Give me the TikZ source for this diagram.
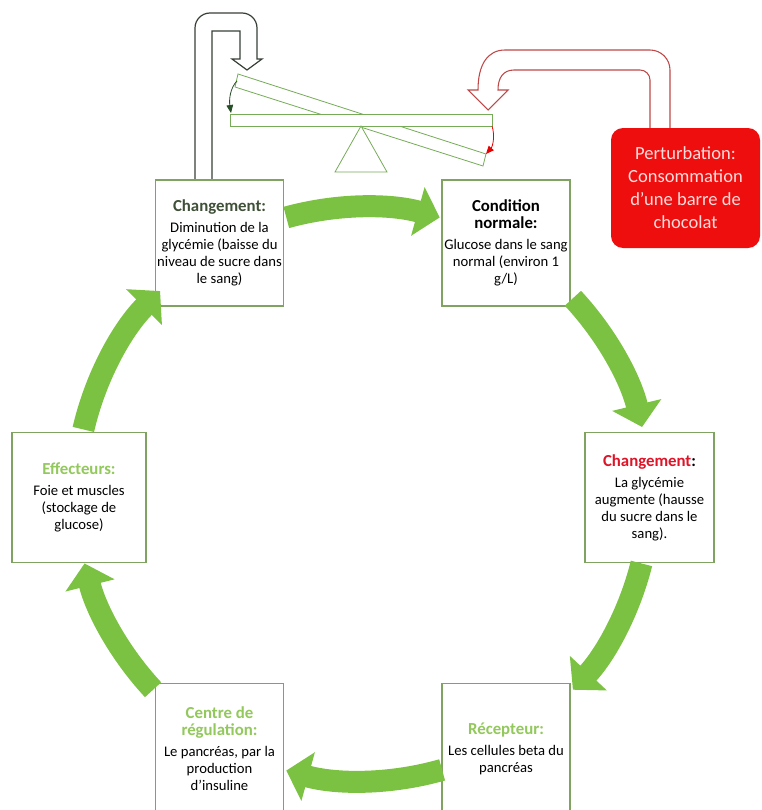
\documentclass[tikz,border=0pt]{standalone}
\usepackage{fontspec}
\setmainfont{Carlito}
\usetikzlibrary{calc,arrows.meta}
\definecolor{boxGreen}{RGB}{128,163,98}
\definecolor{cycleGreen}{RGB}{124,194,66}
\definecolor{titleGreen}{RGB}{146,200,92}
\definecolor{titleDark}{RGB}{64,80,56}
\definecolor{titleRed}{RGB}{222,20,40}
\definecolor{perturbRed}{RGB}{238,14,14}
\definecolor{perturbText}{RGB}{255,220,220}
\definecolor{outlineRed}{RGB}{190,72,72}
\definecolor{outlineDark}{RGB}{55,64,54}
\definecolor{seesawGreen}{RGB}{118,172,88}
\definecolor{tipDark}{RGB}{40,78,40}
\definecolor{tipRed}{RGB}{232,0,0}

\newcommand{\boxTitle}[2]{{\fontsize{12.6}{13}\selectfont\bfseries\color{#1}#2}}

\tikzset{
myBox/.style={
	draw=boxGreen, line width=0.8pt, fill=white,
	minimum width=96pt, minimum height=94.5pt,
	inner xsep=1pt, inner ysep=2pt, align=center,
	font=\fontsize{11}{12.8}\selectfont
}
, myPerturb/.style={
	rectangle, rounded corners=9pt, fill=perturbRed,
	text=perturbText, minimum width=111.75pt, minimum height=90pt,
	inner sep=2pt, align=center,
	font=\fontsize{13.9}{17.3}\selectfont
}
% links
, myCycle/.style={draw=cycleGreen, line width=16.5pt, -{Triangle[width=37pt,length=17pt]}}
, myBlockDark/.style={draw=outlineDark, fill=white, line width=0.9pt}
, myBlockRed/.style={draw=outlineRed, fill=white, line width=0.8pt}
, mySeesaw/.style={draw=seesawGreen, fill=white, line width=0.6pt}
, myTipDark/.style={draw=tipDark, line width=0.6pt, -{Triangle[width=5pt,length=6pt]}}
, myTipRed/.style={draw=tipRed, line width=0.6pt, -{Triangle[width=5pt,length=6pt]}}
}

\begin{document}
\begin{tikzpicture}[x=0.75pt,y=-0.75pt]
	\useasboundingbox (0,0) rectangle (762,810);
	% feedback arrows
	\draw [myBlockDark] (195,181) -- (195,28) arc[start angle=180, end angle=270, radius=15]
		-- (242,13) arc[start angle=270, end angle=360, radius=15]
		-- (257,59) -- (262,59) -- (247,70) -- (232,59) -- (240,59)
		-- (240,31) -- (212,31) -- (212,181) -- cycle;
	\draw [myBlockRed] (670,129) -- (670,70) arc[start angle=0, end angle=-90, radius=20]
		-- (505,50) .. controls (488,50) and (478,64) .. (478,90)
		-- (468,90) -- (488,110) -- (508,90) -- (498,90)
		.. controls (498,78) and (503,70) .. (514,70)
		-- (640,70) arc[start angle=-90, end angle=0, radius=10] -- (650,129) -- cycle;
	% seesaw
	\draw [mySeesaw] (238,74) -- (486,154) -- (483,166) -- (235,87) -- cycle;
	\draw [mySeesaw] (230,114) rectangle (492,126);
	\draw [mySeesaw] (361,126) -- (387,172) -- (335,172) -- cycle;
	\draw [myTipDark] (237,81) .. controls (230,88) and (229,100) .. (231,113);
	\draw [myTipRed] (492,126) .. controls (495,135) and (493,146) .. (486,154);

	% nodes
	\node[myPerturb] (Perturb) at (685.5,188) {Perturbation:\\ Consommation\\ d’une barre de\\ chocolat};
	\node[myBox] (Drop) at (219.5,243) {\boxTitle{titleDark}{Changement:}\\[3pt]
		Diminution de la\\ glycémie (baisse du\\ niveau de sucre dans\\ le sang)};
	\node[myBox] (Normal) at (506,243) {\boxTitle{black}{Condition}\\ \boxTitle{black}{normale:}\\[3pt]
		Glucose dans le sang\\ normal (environ 1\\ g/L)};
	\node[myBox, minimum width=96.75pt, minimum height=98pt] (Rise) at (649.5,497.5)
		{\boxTitle{titleRed}{Changement}\boxTitle{black}{:}\\[3pt]
		La glycémie\\ augmente (hausse\\ du sucre dans le\\ sang).};
	\node[myBox, minimum width=100.5pt, minimum height=98pt] (Effector) at (79,497.5)
		{\boxTitle{titleGreen}{Effecteurs:}\\[3pt]
		Foie et muscles\\ (stockage de\\ glucose)};
	\node[myBox, minimum height=98pt] (Control) at (219.5,748.5)
		{\boxTitle{titleGreen}{Centre de}\\ \boxTitle{titleGreen}{régulation:}\\[3pt]
		Le pancréas, par la\\ production\\ d'insuline};
	\node[myBox, minimum height=98pt] (Receptor) at (506,748.5)
		{\boxTitle{titleGreen}{Récepteur:}\\[3pt]
		Les cellules beta du\\ pancréas};

	% cycle
	\coordinate (C) at (363,494);
	\draw [myCycle] ($(C)+(-105.5:287)$) arc[start angle=-105.5, end angle=-74.5, radius=287];
	\draw [myCycle] ($(C)+(-43:287)$) arc[start angle=-43, end angle=-13.5, radius=287];
	\draw [myCycle] ($(C)+(14:287)$) arc[start angle=14, end angle=43, radius=287];
	\draw [myCycle] ($(C)+(74:287)$) arc[start angle=74, end angle=105.5, radius=287];
	\draw [myCycle] ($(C)+(137:287)$) arc[start angle=137, end angle=166, radius=287];
	\draw [myCycle] ($(C)+(193:287)$) arc[start angle=193, end angle=225, radius=287];
\end{tikzpicture}
\end{document}
